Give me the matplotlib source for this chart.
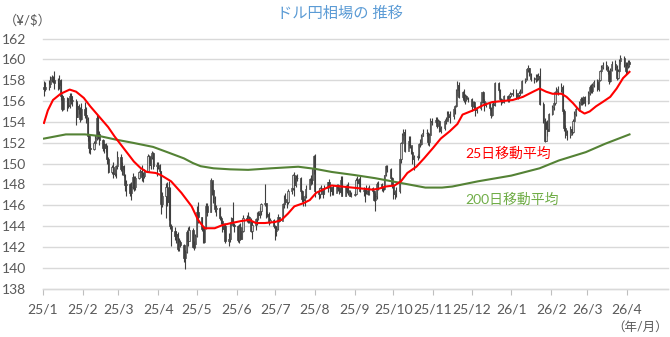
import matplotlib
matplotlib.use("Agg")
import matplotlib.pyplot as plt
import numpy as np
import pandas as pd

plt.rcParams['font.family'] = ['Lato', 'Noto Sans CJK JP', 'DejaVu Sans']

# daily USD/JPY, one row per month (weekdays from 2025-01-02 to 2026-04-03)
first_open = 157.3
closes = [
    157.2, 157.3, 157.6, 158.0, 158.3, 158.0, 157.7, 157.5, 158.0, 156.5, 155.2, 156.3, 155.6, 155.5, 156.5, 156.0, 156.0, 154.5, 155.5, 155.2, 154.3, 155.2,  # 25/1
    154.7, 154.3, 152.6, 151.5, 151.4, 152.0, 152.5, 154.4, 152.8, 152.3, 151.5, 151.9, 151.5, 150.4, 149.2, 149.7, 149.0, 149.1, 149.8, 150.6,  # 25/2
    149.5, 149.8, 148.9, 147.9, 148.0, 147.2, 147.8, 148.7, 147.8, 148.6, 149.2, 149.3, 148.7, 148.8, 149.3, 150.7, 149.9, 150.6, 151.0, 149.8, 149.9,  # 25/3
    149.6, 149.3, 146.1, 146.9, 147.8, 146.3, 147.7, 144.0, 143.5, 143.1, 143.2, 141.8, 142.5, 142.2, 140.9, 141.5, 143.4, 142.6, 143.6, 142.0, 142.3, 143.1,  # 25/4
    145.4, 144.9, 143.7, 142.5, 143.8, 145.9, 145.4, 148.4, 147.5, 146.7, 145.6, 145.7, 144.8, 144.5, 143.7, 144.0, 142.6, 142.8, 144.3, 144.8, 144.1, 144.0,  # 25/5
    142.7, 143.9, 142.8, 143.5, 144.8, 144.6, 144.9, 144.6, 143.5, 144.1, 144.7, 145.3, 145.1, 145.5, 146.1, 146.2, 145.0, 145.2, 144.4, 144.6, 144.0,  # 25/6
    143.5, 143.7, 144.9, 144.5, 146.1, 146.6, 146.3, 146.3, 147.4, 147.7, 148.9, 147.9, 148.6, 148.6, 147.4, 146.6, 146.5, 146.9, 147.6, 148.5, 148.4, 149.5, 150.7,  # 25/7
    147.4, 147.1, 147.7, 147.4, 147.1, 147.7, 148.2, 147.8, 147.4, 147.8, 147.2, 147.9, 147.7, 147.3, 148.4, 146.9, 147.8, 147.4, 147.4, 146.9, 147.0,  # 25/8
    147.1, 148.4, 148.1, 148.5, 147.4, 147.5, 147.4, 147.4, 147.1, 147.7, 147.4, 146.5, 146.9, 148.0, 148.0, 147.7, 147.6, 148.9, 149.8, 149.5, 148.6, 147.9,  # 25/9
    147.1, 147.3, 147.4, 150.4, 152.0, 152.7, 153.0, 151.2, 152.2, 151.8, 151.1, 150.4, 150.6, 150.7, 151.9, 151.9, 152.6, 152.9, 152.9, 152.1, 152.7, 154.1, 154.0,  # 25/10
    154.2, 153.6, 154.1, 153.1, 153.4, 154.1, 154.1, 154.8, 154.5, 154.6, 155.2, 155.5, 157.1, 157.5, 156.4, 156.9, 156.1, 156.5, 156.3, 156.2,  # 25/11
    155.5, 155.9, 155.2, 155.1, 155.3, 155.9, 156.9, 156.0, 155.6, 155.8, 155.3, 154.7, 155.7, 155.6, 157.7, 157.1, 156.2, 155.9, 155.9, 156.5, 156.1, 156.5, 156.7,  # 25/12
    156.7, 156.8, 156.4, 156.6, 156.8, 156.9, 157.9, 158.1, 159.1, 159.2, 158.6, 158.1, 158.1, 158.2, 158.2, 158.4, 155.7, 154.2, 152.2, 153.3, 153.1, 154.8,  # 26/1
    155.4, 155.8, 156.9, 157.0, 157.2, 157.3, 155.0, 153.4, 153.0, 152.7, 153.3, 153.0, 154.1, 154.8, 155.2, 155.8, 156.2, 155.9, 156.4, 155.8,  # 26/2
    156.8, 157.3, 157.0, 157.5, 157.8, 157.2, 158.0, 158.9, 159.3, 159.5, 159.2, 158.9, 157.9, 159.0, 159.6, 159.3, 158.2, 158.9, 159.8, 160.1, 159.5, 158.9,  # 26/3
    159.4, 159.7, 159.6,  # 26/4
]
highs = [
    157.9, 157.8, 158.0, 158.4, 158.5, 158.4, 158.9, 158.2, 158.5, 158.1, 156.7, 156.5, 156.4, 156.3, 156.8, 156.8, 156.5, 156.2, 155.9, 155.7, 155.4, 155.8,
    155.9, 155.4, 154.5, 152.8, 152.0, 152.2, 152.7, 154.8, 154.6, 153.1, 152.4, 152.0, 152.0, 151.8, 150.6, 149.9, 150.2, 149.5, 149.9, 151.2,
    150.9, 150.2, 149.9, 149.0, 148.4, 148.1, 148.2, 149.1, 148.8, 148.8, 149.3, 149.5, 149.9, 149.2, 149.5, 150.9, 150.8, 150.8, 151.2, 151.1, 150.2,
    150.2, 150.0, 149.3, 147.3, 148.1, 148.2, 148.3, 147.8, 144.2, 143.9, 143.5, 143.4, 142.9, 142.7, 142.3, 141.7, 143.6, 143.9, 144.0, 143.8, 142.6, 143.2,
    145.9, 146.3, 144.9, 143.9, 144.0, 146.2, 146.2, 148.6, 148.3, 147.6, 146.9, 146.0, 145.8, 145.0, 144.6, 144.3, 144.3, 143.3, 144.4, 144.9, 146.3, 144.3,
    144.1, 144.2, 144.3, 143.9, 145.1, 145.1, 145.4, 145.0, 144.8, 144.5, 144.8, 145.4, 145.5, 145.8, 146.2, 148.0, 146.2, 145.4, 145.4, 144.8, 144.7,
    144.1, 144.0, 145.2, 144.9, 146.2, 147.0, 147.2, 146.6, 147.6, 147.8, 149.0, 149.2, 148.9, 149.0, 148.7, 147.5, 146.9, 147.1, 147.9, 148.6, 148.9, 149.5, 150.8,
    150.9, 147.7, 147.8, 147.9, 147.7, 147.9, 148.2, 148.5, 147.9, 147.5, 147.9, 148.0, 148.0, 147.7, 148.8, 148.8, 147.9, 148.0, 148.2, 147.5, 147.3,
    147.4, 148.6, 148.8, 148.6, 148.8, 147.8, 147.6, 147.9, 147.8, 147.9, 147.8, 147.5, 147.2, 148.2, 148.3, 148.1, 147.8, 148.9, 149.9, 149.9, 149.6, 148.7,
    148.0, 147.5, 147.8, 150.5, 152.1, 152.9, 153.3, 153.3, 152.6, 152.6, 151.7, 151.2, 150.8, 150.9, 152.0, 152.4, 152.8, 153.3, 153.3, 153.0, 152.9, 154.4, 154.4,
    154.5, 154.5, 154.3, 154.2, 153.6, 154.3, 154.5, 155.0, 155.0, 155.0, 155.4, 155.6, 157.2, 157.9, 157.8, 157.0, 157.2, 156.7, 156.6, 156.4,
    156.3, 156.0, 156.0, 155.5, 155.4, 156.0, 156.9, 157.0, 156.2, 155.9, 155.8, 155.4, 155.8, 155.9, 157.8, 157.8, 157.2, 156.3, 156.1, 156.6, 156.6, 156.6, 156.9,
    156.8, 157.2, 157.2, 156.8, 157.0, 157.2, 158.0, 158.2, 159.2, 159.5, 159.2, 158.7, 158.3, 158.6, 158.6, 158.7, 159.2, 155.9, 154.4, 154.1, 154.2, 154.9,
    155.6, 156.0, 157.0, 157.3, 157.4, 157.7, 157.5, 155.2, 153.7, 153.2, 153.6, 153.6, 154.3, 155.0, 155.4, 156.0, 156.4, 156.4, 156.5, 156.5,
    157.0, 157.5, 157.6, 157.7, 158.0, 158.1, 158.2, 159.0, 159.5, 159.7, 159.8, 159.4, 159.0, 159.2, 159.8, 159.9, 159.5, 159.1, 160.0, 160.4, 160.3, 159.7,
    159.7, 159.9, 159.9,
]
lows = [
    156.5, 157.0, 157.1, 157.3, 157.8, 157.7, 157.2, 157.1, 157.2, 156.1, 155.0, 155.1, 155.0, 155.3, 155.3, 155.7, 155.5, 153.7, 154.5, 154.8, 154.0, 154.2,
    154.4, 153.9, 152.2, 151.0, 150.9, 151.3, 151.8, 152.3, 152.4, 151.8, 151.2, 151.0, 151.1, 150.0, 149.1, 149.0, 148.6, 148.8, 148.6, 149.5,
    149.3, 148.9, 148.7, 147.4, 146.9, 146.9, 146.5, 147.6, 147.4, 147.5, 148.5, 148.7, 148.3, 148.2, 148.6, 149.3, 149.6, 149.5, 150.4, 149.5, 148.8,
    149.5, 149.0, 145.2, 145.8, 144.8, 145.9, 144.6, 143.7, 142.1, 142.7, 142.4, 141.6, 141.6, 142.0, 140.6, 139.9, 141.4, 142.1, 142.6, 141.9, 141.7, 141.9,
    143.0, 144.3, 143.5, 142.4, 142.4, 143.7, 145.0, 145.4, 147.0, 146.2, 145.4, 145.0, 144.6, 144.2, 143.4, 143.4, 142.4, 142.1, 142.5, 144.0, 144.0, 143.4,
    142.5, 142.4, 142.7, 142.8, 143.4, 144.4, 144.3, 144.3, 143.4, 142.8, 143.6, 144.1, 144.6, 144.8, 145.1, 145.9, 144.8, 144.9, 144.1, 144.3, 143.8,
    142.7, 143.1, 143.6, 144.4, 144.9, 145.7, 146.1, 145.7, 146.1, 147.1, 147.5, 146.9, 147.8, 148.3, 147.2, 146.3, 145.9, 145.9, 146.7, 147.6, 147.9, 148.0, 149.0,
    146.8, 146.6, 146.7, 147.1, 146.7, 147.1, 147.3, 147.7, 146.9, 147.0, 147.0, 147.3, 147.4, 147.1, 147.2, 146.9, 146.9, 147.2, 147.0, 146.9, 146.8,
    146.9, 147.0, 147.6, 148.0, 147.3, 146.9, 146.3, 147.1, 147.0, 147.0, 147.2, 146.4, 145.5, 146.6, 147.5, 147.4, 147.3, 147.5, 148.8, 149.2, 148.5, 147.7,
    146.6, 146.6, 146.8, 147.2, 150.1, 151.9, 152.3, 151.1, 151.5, 151.5, 150.9, 150.0, 149.4, 150.3, 150.5, 151.6, 151.8, 152.6, 152.6, 151.8, 151.7, 152.7, 153.7,
    153.9, 153.4, 153.6, 153.0, 152.9, 153.2, 153.8, 154.1, 154.2, 153.9, 154.3, 154.8, 155.4, 156.5, 156.3, 156.2, 155.9, 155.7, 156.0, 155.9,
    155.0, 155.4, 155.1, 154.6, 154.9, 155.1, 155.8, 155.8, 155.0, 155.4, 155.1, 154.4, 154.6, 155.3, 155.5, 156.9, 156.0, 155.6, 155.8, 155.8, 155.9, 155.9, 156.3,
    156.5, 156.5, 156.2, 156.2, 156.4, 156.6, 156.8, 157.7, 158.0, 158.8, 158.4, 157.9, 157.7, 157.8, 157.9, 158.0, 155.6, 153.9, 152.1, 152.2, 152.6, 153.1,
    154.7, 155.1, 155.6, 156.6, 156.6, 156.9, 154.8, 153.1, 152.5, 152.3, 152.5, 152.7, 152.9, 154.0, 154.6, 155.0, 155.6, 155.6, 155.7, 155.5,
    155.7, 156.6, 156.8, 156.8, 157.3, 157.0, 157.0, 157.9, 158.7, 159.1, 159.0, 158.6, 157.6, 157.8, 158.9, 159.0, 158.0, 158.1, 158.8, 159.6, 159.3, 158.6,
    158.7, 159.2, 159.3,
]

# moving averages
ma25_dates = ['2025-01-02', '2025-01-05', '2025-01-09', '2025-01-15', '2025-01-22', '2025-01-27',
              '2025-02-02', '2025-02-07', '2025-02-14', '2025-02-21', '2025-02-26', '2025-03-03',
              '2025-03-08', '2025-03-13', '2025-03-18', '2025-03-23', '2025-03-30', '2025-04-03',
              '2025-04-11', '2025-04-19', '2025-04-27', '2025-05-02', '2025-05-07', '2025-05-15',
              '2025-05-21', '2025-05-28', '2025-06-05', '2025-06-11', '2025-06-16', '2025-06-23',
              '2025-07-01', '2025-07-06', '2025-07-11', '2025-07-16', '2025-07-23', '2025-07-28',
              '2025-08-02', '2025-08-09', '2025-08-14', '2025-08-22', '2025-08-30', '2025-09-07',
              '2025-09-15', '2025-09-20', '2025-09-25', '2025-10-02', '2025-10-07', '2025-10-12',
              '2025-10-19', '2025-10-25', '2025-11-01', '2025-11-07', '2025-11-14', '2025-11-20',
              '2025-11-24', '2025-12-02', '2025-12-10', '2025-12-17', '2025-12-25', '2026-01-02',
              '2026-01-10', '2026-01-18', '2026-01-23', '2026-01-28', '2026-02-02', '2026-02-09',
              '2026-02-13', '2026-02-18', '2026-02-23', '2026-02-27', '2026-03-03', '2026-03-08',
              '2026-03-13', '2026-03-19', '2026-03-24', '2026-03-29', '2026-04-03']
ma25 = [153.9, 155.1, 156.1, 156.7, 157.1, 156.9,
        156.3, 155.5, 154.5, 153.5, 152.6, 151.8,
        151.0, 150.2, 149.6, 149.2, 149.1, 148.9,
        148.3, 147.2, 145.9, 144.6, 143.8, 143.8,
        144.1, 144.3, 144.5, 144.6, 144.3, 144.3,
        144.4, 144.6, 145.2, 145.9, 146.2, 146.5,
        147.2, 147.6, 147.9, 147.8, 147.7, 147.6,
        147.5, 147.6, 147.8, 147.9, 148.3, 149.1,
        149.7, 150.5, 151.5, 152.4, 153.1, 153.8,
        154.7, 155.1, 155.6, 155.9, 156.0, 156.1,
        156.4, 156.9, 157.2, 156.9, 156.7, 156.7,
        156.4, 155.8, 155.1, 154.8, 155.0, 155.5,
        155.9, 156.4, 157.2, 158.2, 158.8]

ma200_dates = ['2025-01-02', '2025-01-19', '2025-02-03', '2025-02-14', '2025-02-27', '2025-03-12',
               '2025-03-28', '2025-04-08', '2025-04-21', '2025-04-28', '2025-05-04', '2025-05-14',
               '2025-05-27', '2025-06-10', '2025-06-28', '2025-07-19', '2025-08-01', '2025-08-14',
               '2025-09-01', '2025-09-17', '2025-09-30', '2025-10-13', '2025-10-26', '2025-11-08',
               '2025-11-16', '2025-12-06', '2026-01-01', '2026-01-23', '2026-02-07', '2026-02-28',
               '2026-03-15', '2026-04-03']
ma200 = [152.4, 152.8, 152.8, 152.65, 152.3, 152.0,
         151.6, 151.1, 150.5, 150.05, 149.75, 149.55,
         149.45, 149.4, 149.55, 149.7, 149.5, 149.2,
         148.9, 148.6, 148.3, 148.0, 147.7, 147.7,
         147.8, 148.3, 148.85, 149.55, 150.3, 151.1,
         151.9, 152.8]

month_ticks = pd.date_range('2025-01-01', '2026-04-01', freq='MS')
month_labels = ['25/1', '25/2', '25/3', '25/4', '25/5', '25/6', '25/7', '25/8',
                '25/9', '25/10', '25/11', '25/12', '26/1', '26/2', '26/3', '26/4']

dates = pd.bdate_range('2025-01-02', '2026-04-03')[:len(closes)]
c = np.array(closes)
o = np.array([first_open] + closes[:-1])
h = np.array(highs)
l = np.array(lows)
up = c >= o

fig = plt.figure(figsize=(6.7, 3.37), dpi=100)
ax = fig.add_axes([42.7 / 670, 1 - 288.7 / 337, (668 - 42.7) / 670, (288.7 - 38.5) / 337])

ax.set_ylim(138, 162)
ax.set_xlim(pd.Timestamp('2025-01-01'), pd.Timestamp('2026-05-03'))
ax.set_yticks(np.arange(138, 163, 2))
ax.grid(axis='y', color='#d9d9d9', linewidth=1)
ax.set_axisbelow(True)
for gl in ax.get_ygridlines():
    gl.set_clip_on(False)

# candles
cand = '#3f3f3f'
ax.vlines(dates, l, h, color=cand, linewidth=0.8, zorder=2)
body_bottom = np.minimum(o, c)
body_h = np.maximum(np.abs(c - o), 0.06)
ax.bar(dates[up], body_h[up], bottom=body_bottom[up], width=0.9,
       facecolor='#d0d0d0', edgecolor=cand, linewidth=0.5, zorder=3)
ax.bar(dates[~up], body_h[~up], bottom=body_bottom[~up], width=0.9,
       facecolor=cand, edgecolor=cand, linewidth=0.5, zorder=3)

ax.plot(pd.to_datetime(ma200_dates), ma200, color='#548235', linewidth=1.5, zorder=4)
ax.plot(pd.to_datetime(ma25_dates), ma25, color='#ff0000', linewidth=1.5, zorder=5)

for s in ['top', 'right', 'left']:
    ax.spines[s].set_visible(False)
ax.spines['bottom'].set_color('#d9d9d9')
ax.spines['bottom'].set_linewidth(1)

ax.set_xticks(month_ticks)
ax.set_xticklabels(month_labels)
ax.tick_params(axis='x', direction='out', length=4, color='#bfbfbf', labelsize=10,
               labelcolor='#595959', pad=7)
ax.tick_params(axis='y', length=0, labelsize=10, labelcolor='#595959', pad=12)

fig.text(340 / 670, 1 - 14 / 337, 'ドル円相場の 推移', ha='center', va='center',
         fontsize=11, color='#5b9bd5')
fig.text(4 / 670, 1 - 20 / 337, '（¥/$）', ha='left', va='center', fontsize=9.5, color='#595959')
fig.text(668 / 670, 1 - 327 / 337, '（年/月）', ha='right', va='center', fontsize=9, color='#595959')
fig.text(465 / 670, 1 - 153 / 337, '25日移動平均', ha='left', va='center', fontsize=10, color='#ff0000')
fig.text(465 / 670, 1 - 199 / 337, '200日移動平均', ha='left', va='center', fontsize=10, color='#70ad47')

fig.savefig('out.png', dpi=100)
